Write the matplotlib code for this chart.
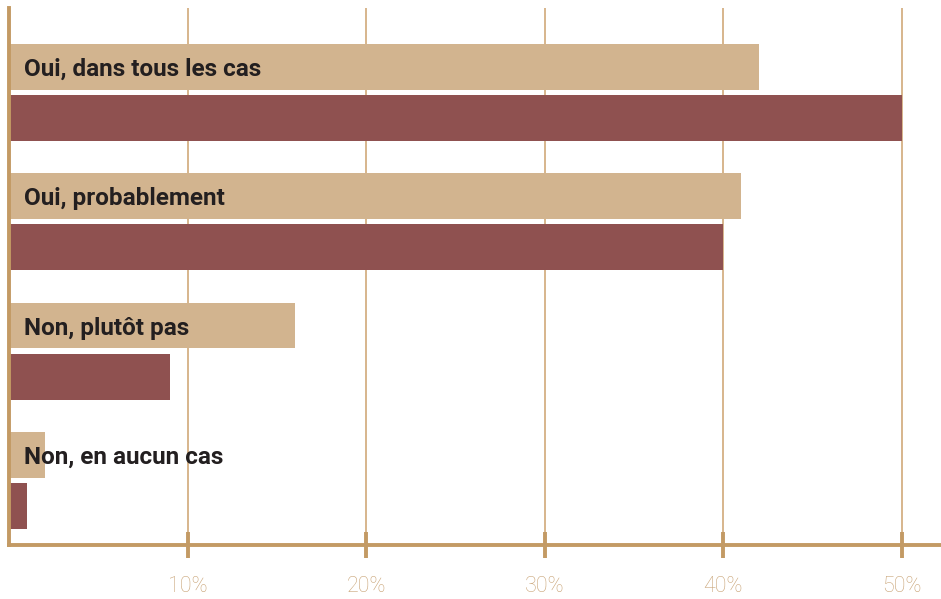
import matplotlib
matplotlib.use("Agg")
import matplotlib.pyplot as plt
import numpy as np

categories = ["Oui, dans tous les cas", "Oui, probablement", "Non, plutôt pas", "Non, en aucun cas"]
series_a = [42, 41, 16, 2]   # tan bars
series_b = [50, 40, 9, 1]    # dark red bars
ticks = [10, 20, 30, 40, 50]
tick_labels = ["10%", "20%", "30%", "40%", "50%"]

tan = "#d2b48f"
red = "#8f5150"
axis_col = "#c39a64"
grid_col = "#d4b083"
tick_text = "#c9a477"

fig = plt.figure(figsize=(9.41, 5.99), dpi=100)
ax = fig.add_axes([9/941, 1 - 545/599, 931/941, (545 - 8)/599])

y = np.arange(len(categories))
h = 0.355
off = 0.197
ax.barh(y - off, series_a, height=h, color=tan, zorder=3)
ax.barh(y + off, series_b, height=h, color=red, zorder=3)

for i, c in enumerate(categories):
    ax.text(0.84, i - off + 0.02, c, va="center", ha="left", fontsize=17.5,
            fontweight="bold", color="#231f20", family="Roboto", zorder=4)

ax.set_xlim(0, 931/17.86)
ax.set_ylim(3.498, -0.649)
ax.set_xticks(ticks)
ax.set_xticklabels(tick_labels, family="Roboto", fontweight="light")
ax.set_yticks([])
ax.xaxis.grid(True, color=grid_col, linewidth=1.3, zorder=0)
ax.set_axisbelow(True)
ax.tick_params(axis="x", direction="inout", length=19, width=2.8, color=axis_col,
               labelcolor=tick_text, labelsize=15.5, pad=13)
for s in ["top", "right"]:
    ax.spines[s].set_visible(False)
for s in ["left", "bottom"]:
    ax.spines[s].set_color(axis_col)
    ax.spines[s].set_linewidth(2.8)
    ax.spines[s].set_zorder(5)

fig.savefig("out.png", dpi=100)
